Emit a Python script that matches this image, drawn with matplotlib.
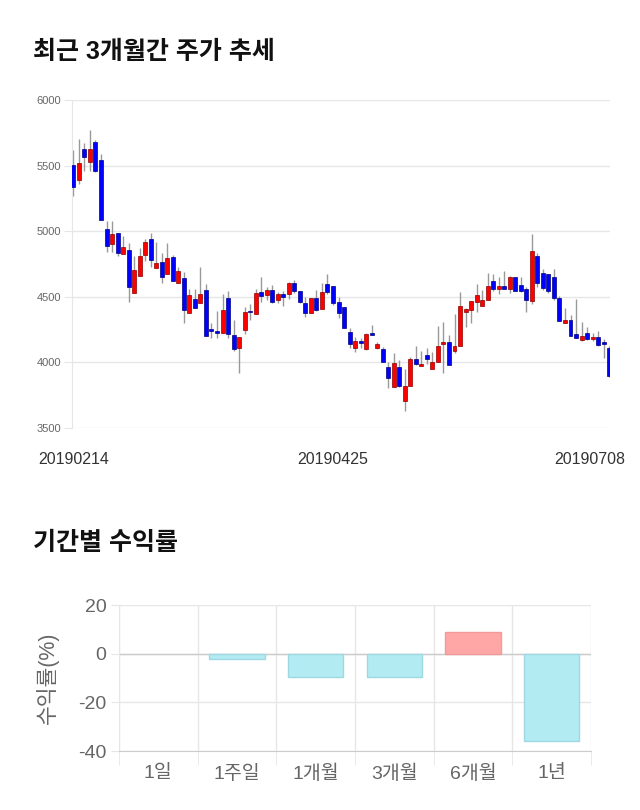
import matplotlib
matplotlib.use('Agg')
import matplotlib.pyplot as plt
import matplotlib.transforms as mtransforms
import numpy as np

plt.rcParams['font.family'] = ['Liberation Sans', 'Noto Sans CJK KR']
plt.rcParams['axes.unicode_minus'] = False

# 최근 3개월 일봉 (시가/고가/저가/종가)
opens = [5505, 5390, 5624, 5530, 5682, 5543, 5014, 4903, 4984, 4827,
         4857, 4527, 4661, 4821, 4941, 4722, 4765, 4672, 4801, 4608,
         4641, 4380, 4481, 4451, 4552, 4252, 4237, 4222, 4491, 4212,
         4113, 4247, 4392, 4367, 4537, 4512, 4552, 4473, 4522, 4522,
         4608, 4547, 4451, 4380, 4491, 4407, 4598, 4583, 4463, 4420,
         4230, 4113, 4164, 4100, 4222, 4113, 4103, 3968, 3811, 3963,
         3709, 3823, 4024, 3976, 4054, 3950, 4006, 4141, 4153, 4090,
         4128, 4382, 4400, 4463, 4430, 4476, 4618, 4560, 4583, 4557,
         4649, 4588, 4557, 4471, 4814, 4679, 4674, 4649, 4494, 4298,
         4324, 4214, 4171, 4222, 4176, 4192, 4153, 4108]
highs = [5619, 5700, 5675, 5771, 5695, 5588, 5080, 5080, 4984, 4964,
         4908, 4811, 4870, 4938, 4989, 4920, 4837, 4908, 4819, 4725,
         4687, 4560, 4557, 4730, 4598, 4298, 4395, 4522, 4542, 4324,
         4192, 4420, 4443, 4557, 4649, 4578, 4588, 4540, 4542, 4616,
         4628, 4547, 4496, 4489, 4552, 4603, 4674, 4583, 4496, 4420,
         4260, 4197, 4184, 4222, 4286, 4153, 4115, 4006, 4070, 4019,
         3948, 4044, 4125, 4090, 4110, 4082, 4278, 4311, 4209, 4369,
         4537, 4412, 4468, 4598, 4552, 4684, 4674, 4649, 4694, 4661,
         4649, 4649, 4578, 4976, 4832, 4710, 4674, 4710, 4506, 4412,
         4362, 4481, 4306, 4268, 4222, 4242, 4176, 4125]
lows = [5268, 5360, 5462, 5462, 5454, 5086, 4844, 4839, 4814, 4827,
        4463, 4527, 4661, 4776, 4730, 4722, 4608, 4672, 4623, 4608,
        4298, 4380, 4415, 4451, 4202, 4184, 4184, 4222, 4184, 4090,
        3922, 4217, 4324, 4367, 4463, 4476, 4451, 4451, 4433, 4481,
        4527, 4451, 4349, 4380, 4392, 4407, 4522, 4438, 4336, 4260,
        4108, 4082, 4113, 4095, 4209, 4103, 4006, 3803, 3811, 3816,
        3633, 3823, 3981, 3976, 3988, 3950, 4006, 3922, 3981, 4075,
        4128, 4268, 4303, 4382, 4430, 4476, 4547, 4519, 4557, 4527,
        4547, 4540, 4387, 4446, 4578, 4552, 4527, 4476, 4319, 4298,
        4202, 4184, 4166, 4171, 4166, 4128, 4032, 3887]
closes = [5340, 5522, 5563, 5624, 5459, 5086, 4887, 4979, 4837, 4877,
          4578, 4705, 4811, 4918, 4781, 4760, 4649, 4796, 4623, 4694,
          4400, 4514, 4415, 4522, 4202, 4237, 4222, 4400, 4214, 4103,
          4192, 4387, 4382, 4527, 4506, 4552, 4458, 4522, 4496, 4608,
          4547, 4463, 4380, 4489, 4400, 4534, 4540, 4451, 4380, 4265,
          4141, 4161, 4146, 4214, 4209, 4138, 4006, 3879, 3993, 3821,
          3821, 4024, 3988, 3988, 4029, 4006, 4125, 4153, 3981, 4128,
          4430, 4405, 4468, 4512, 4476, 4583, 4560, 4583, 4557, 4649,
          4547, 4547, 4476, 4852, 4603, 4565, 4547, 4494, 4319, 4324,
          4202, 4184, 4204, 4176, 4192, 4136, 4141, 3899]
date_labels = ['20190214', '20190425', '20190708']
date_idx = [0, 47, 97]

# 기간별 수익률
periods = ['1일', '1주일', '1개월', '3개월', '6개월', '1년']
returns = [0.0, -2.0, -9.7, -9.4, 9.0, -35.7]

fig = plt.figure(figsize=(6.4, 8.1), dpi=100)
W, H = 640, 810

fig.text(33 / W, 1 - 52 / H, '최근 3개월간 주가 추세', fontsize=18, fontweight='bold',
         color='#111111', va='center', ha='left')
fig.text(33 / W, 1 - 543 / H, '기간별 수익률', fontsize=18, fontweight='bold',
         color='#111111', va='center', ha='left')

# ---- 캔들 차트 ----
ax1 = fig.add_axes([72 / W, 1 - 428 / H, (610 - 72) / W, (428 - 100) / H])
x = np.arange(len(opens))
up = [c >= o for o, c in zip(opens, closes)]
body_col = ['#ff0000' if u else '#0000ff' for u in up]
edge_col = ['#8b0000' if u else '#00007a' for u in up]
bottoms = [min(o, c) for o, c in zip(opens, closes)]
heights = [max(abs(c - o), 6) for o, c in zip(opens, closes)]

ax1.vlines(x, lows, highs, color='#999999', linewidth=1, zorder=2)
ax1.bar(x, heights, bottom=bottoms, width=0.72, color=body_col,
        edgecolor=edge_col, linewidth=0.5, zorder=3)

ax1.set_ylim(3500, 6000)
ax1.set_xlim(-0.25, len(opens) - 0.85)
ax1.set_yticks([3500, 4000, 4500, 5000, 5500, 6000])
ax1.grid(axis='y', color='#e6e6e6', linewidth=1)
ax1.set_axisbelow(True)
for s in ['top', 'right', 'bottom']:
    ax1.spines[s].set_visible(False)
ax1.spines['left'].set_color('#e6e6e6')
ax1.tick_params(axis='y', length=6, color='#e6e6e6', labelsize=8, labelcolor='#666666', pad=2)
ax1.set_xticks(date_idx)
ax1.set_xticklabels(date_labels)
ax1.tick_params(axis='x', length=0, labelsize=11.5, labelcolor='#333333', pad=17)
lbl = ax1.get_xticklabels()[-1]
lbl.set_transform(lbl.get_transform() + mtransforms.ScaledTranslation(-19 / 100, 0, fig.dpi_scale_trans))

# ---- 수익률 막대 ----
ax2 = fig.add_axes([119 / W, 1 - 751 / H, (591 - 119) / W, (751 - 605) / H])
xp = np.arange(len(periods))
bar_col = ['#ffa6a6' if r > 0 else '#b2ebf2' for r in returns]
bar_edge = ['#f09a9a' if r > 0 else ('#9fd8e2' if r < 0 else 'none') for r in returns]
ax2.bar(xp, returns, width=0.7, color=bar_col, edgecolor=bar_edge, linewidth=1, zorder=3)
ax2.set_xlim(-0.5, len(periods) - 0.5)
ax2.set_ylim(-40, 20)
ax2.set_yticks([-40, -20, 0, 20])
ax2.set_xticks(xp)
ax2.set_xticklabels(periods)
ax2.set_xticks(np.arange(len(periods) + 1) - 0.5, minor=True)
ax2.grid(axis='y', color='#e6e6e6', linewidth=1)
ax2.grid(axis='x', which='minor', color='#e6e6e6', linewidth=1)
ax2.axhline(0, color='#cccccc', linewidth=1, zorder=2)
ax2.set_axisbelow(True)
for s in ['top', 'right']:
    ax2.spines[s].set_visible(False)
ax2.spines['left'].set_color('#e6e6e6')
ax2.spines['bottom'].set_color('#cccccc')
ax2.tick_params(axis='x', which='major', length=0, labelsize=14, labelcolor='#666666', pad=10)
ax2.tick_params(axis='x', which='minor', length=10, color='#e6e6e6')
ax2.tick_params(axis='y', length=6, color='#e6e6e6', labelsize=14, labelcolor='#666666', pad=3)
ax2.set_ylabel('수익률(%)', fontsize=15.5, color='#666666', labelpad=14)

fig.savefig('out.png', dpi=100, facecolor='white')
